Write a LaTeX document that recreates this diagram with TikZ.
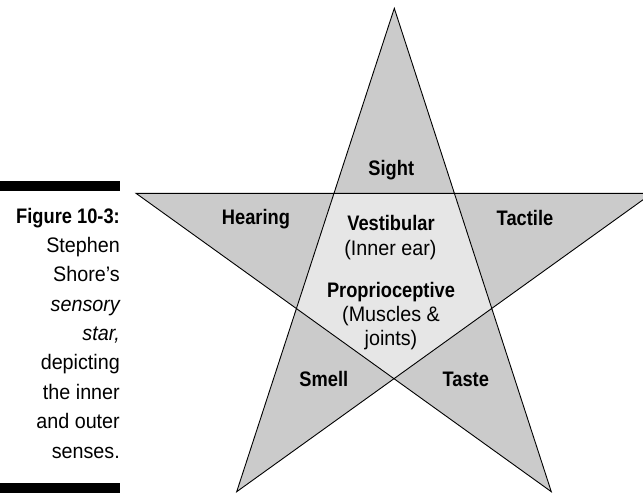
\documentclass[tikz,border=0pt]{standalone}
\usepackage{fontspec}
\setmainfont{Liberation Sans}[FakeStretch=0.94]
\newfontfamily\boldlbl{Liberation Sans}[FakeStretch=0.87]
\definecolor{outerg}{HTML}{CBCBCB}
\definecolor{innerg}{HTML}{E6E6E6}
\begin{document}
\begin{tikzpicture}[x=1pt,y=-1pt,
  lbl/.style={font=\boldlbl\bfseries\fontsize{21}{25}\selectfont, anchor=base, inner sep=0pt},
  sub/.style={font=\fontsize{21}{25}\selectfont, anchor=base, inner sep=0pt},
  capb/.style={font=\boldlbl\bfseries\fontsize{21}{29}\selectfont, anchor=base east, inner sep=0pt},
  capr/.style={font=\fontsize{21}{29}\selectfont, anchor=base east, inner sep=0pt},
  edge/.style={draw=black, line width=0.9pt}]
\useasboundingbox (0,0) rectangle (643,493);
\clip (0,0) rectangle (643,493);
% star vertices
\coordinate (T) at (394.3,8.3);
\coordinate (L) at (136,193.3);
\coordinate (R) at (652,193.3);
\coordinate (BL) at (236.7,491.7);
\coordinate (BR) at (551.3,491.7);
% inner pentagon
\coordinate (P1) at (intersection of T--BL and L--R);
\coordinate (P2) at (intersection of T--BR and L--R);
\coordinate (P3) at (intersection of T--BR and R--BL);
\coordinate (P4) at (intersection of R--BL and L--BR);
\coordinate (P5) at (intersection of L--BR and T--BL);
\fill[outerg] (T) -- (BL) -- (R) -- (L) -- (BR) -- cycle;
\fill[innerg] (P1) -- (P2) -- (P3) -- (P4) -- (P5) -- cycle;
\draw[edge] (T) -- (BL) -- (R) -- (L) -- (BR) -- cycle;
% labels
\node[lbl] (sight) at (391.3,175.7) {Sight};
\node[lbl] (hearing) at (256,224.5) {Hearing};
\node[lbl] (tactile) at (525,225) {Tactile};
\node[lbl] (vest) at (391,230) {Vestibular};
\node[sub] (inner) at (390.5,255) {(Inner ear)};
\node[lbl] (prop) at (391,297) {Proprioceptive};
\node[sub] (musc) at (391,321.7) {(Muscles \&};
\node[sub] (joints) at (391,345) {joints)};
\node[lbl] (smell) at (323.8,386) {Smell};
\node[lbl] (taste) at (465.8,386) {Taste};
% caption bars
\fill[black] (0,181) rectangle (119.5,191);
\fill[black] (0,483) rectangle (119.5,493);
% caption
\node[capb] (c1) at (120,223) {Figure 10-3:};
\node[capr] (c2) at (120,252.4) {Stephen};
\node[capr] (c3) at (120,281.75) {Shore’s};
\node[capr] (c4) at (120,311.1) {\itshape sensory};
\node[capr] (c5) at (120,340.5) {\itshape star,};
\node[capr] (c6) at (120,369.9) {depicting};
\node[capr] (c7) at (120,399.25) {the inner};
\node[capr] (c8) at (120,428.6) {and outer};
\node[capr] (c9) at (120,458) {senses.};
\end{tikzpicture}
\end{document}
